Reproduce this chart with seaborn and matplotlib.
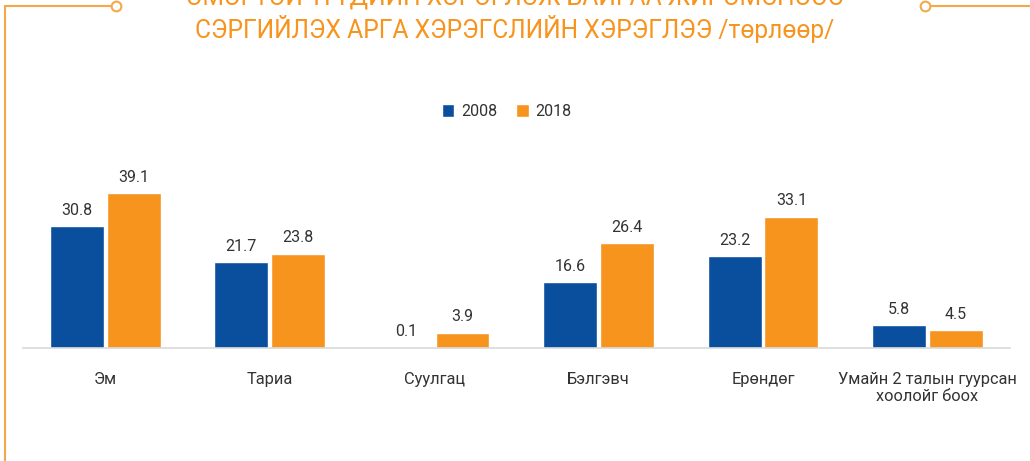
import pandas as pd
import matplotlib.pyplot as plt
import seaborn as sns
from matplotlib.lines import Line2D

# data
categories = ['Эм', 'Тариа', 'Суулгац', 'Бэлгэвч', 'Ерөндөг', 'Умайн 2 талын гуурсан\nхоолойг боох']
years = ['2008', '2018']
values_2008 = [30.8, 21.7, 0.1, 16.6, 23.2, 5.8]
values_2018 = [39.1, 23.8, 3.9, 26.4, 33.1, 4.5]

df = pd.DataFrame({
    'category': categories * 2,
    'year': [years[0]] * len(categories) + [years[1]] * len(categories),
    'value': values_2008 + values_2018,
})

sns.set_style('white')
plt.rcParams['font.family'] = ['Roboto', 'DejaVu Sans']

orange = '#F7941E'
blue = '#0A4F9E'
text_c = '#333333'

fig = plt.figure(figsize=(10.30, 4.61), dpi=100)
ax = fig.add_axes([0.0223, 0.245, 0.958, 0.473])

sns.barplot(data=df, x='category', y='value', hue='year', palette=[blue, orange],
            saturation=1, width=0.69, gap=0.05, ax=ax, legend=True)

for cont in ax.containers:
    ax.bar_label(cont, fmt='%.1f', padding=6, fontsize=11.5, color=text_c)

ax.set_ylim(0, 55)
ax.set_xlim(-0.5, len(categories) - 0.5)
ax.set_xlabel('')
ax.set_ylabel('')
ax.set_yticks([])
ax.tick_params(axis='x', length=0, pad=17, labelsize=11.8, labelcolor=text_c)
for s in ['top', 'right', 'left']:
    ax.spines[s].set_visible(False)
ax.spines['bottom'].set_color('#D9D9D9')
ax.spines['bottom'].set_linewidth(1.2)

leg = ax.legend(loc='center', bbox_to_anchor=(0.49, 1.085), ncol=2, frameon=False,
                fontsize=11.5, handlelength=0.8, handleheight=0.8, handletextpad=0.4,
                columnspacing=1.2)
for t in leg.get_texts():
    t.set_color(text_c)

# title (first line is cut off at the top of the picture)
fig.text(0.5, 1.01, 'ЭМЭГТЭЙЧҮҮДИЙН ХЭРЭГЛЭЖ БАЙГАА ЖИРЭМСНЭЭС', ha='center', va='center',
         fontsize=17.7, color=orange)
fig.text(0.5, 0.937, 'СЭРГИЙЛЭХ АРГА ХЭРЭГСЛИЙН ХЭРЭГЛЭЭ /төрлөөр/', ha='center', va='center',
         fontsize=17.7, color=orange)

# decorative frame
fc = '#F5A84A'
fig.add_artist(Line2D([0.005, 0.005], [0.0, 0.988], color=fc, lw=1.5))
fig.add_artist(Line2D([0.005, 0.108], [0.988, 0.988], color=fc, lw=1.5))
fig.add_artist(Line2D([0.904, 1.0], [0.988, 0.988], color=fc, lw=1.5))
fig.add_artist(Line2D([0.1125, 0.8985], [0.988, 0.988], lw=0, marker='o', markersize=7,
                      markerfacecolor='white', markeredgecolor=fc, markeredgewidth=1.5))

plt.savefig('out.png', dpi=100)
